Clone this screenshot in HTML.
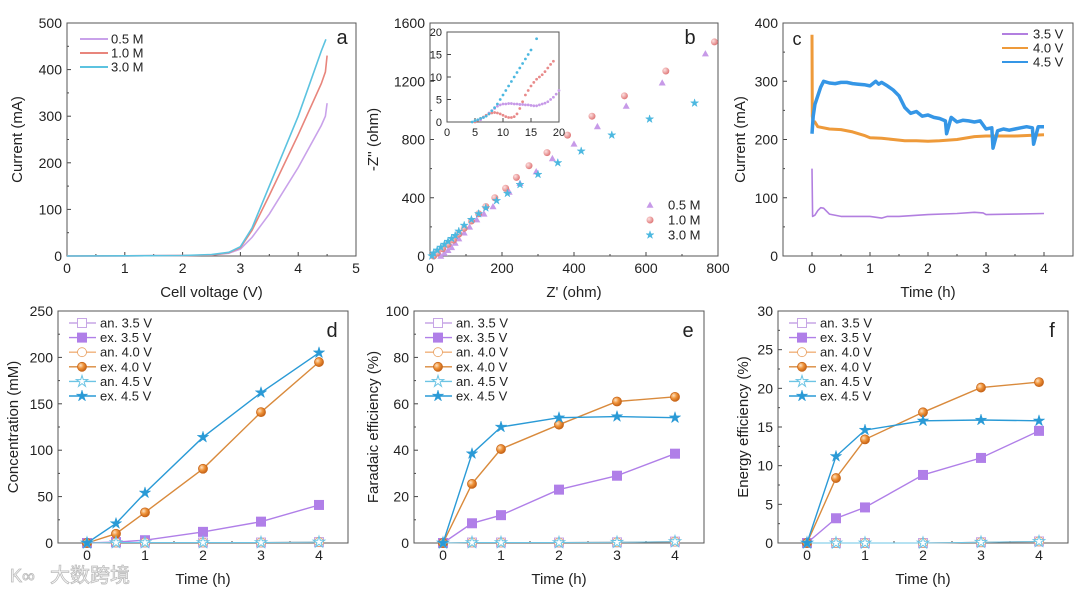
<!DOCTYPE html>
<html><head><meta charset="utf-8"><style>
body{margin:0;background:#fff;}
svg text{font-family:"Liberation Sans",Arial,sans-serif;fill:#222;}
</style></head><body>
<svg id="s" width="1080" height="594" viewBox="0 0 1080 594" xmlns="http://www.w3.org/2000/svg">
<defs>
<radialGradient id="gOr" cx="35%" cy="35%" r="65%"><stop offset="0" stop-color="#fde2c4"/><stop offset="0.5" stop-color="#f0943a"/><stop offset="1" stop-color="#c8661a"/></radialGradient>
<radialGradient id="gPk" cx="35%" cy="35%" r="65%"><stop offset="0" stop-color="#fde0e0"/><stop offset="1" stop-color="#e07a7a"/></radialGradient>
</defs>
<text x="50" y="582" font-size="20" style="fill:#fff;stroke:#bbb;stroke-width:0.8;font-family:'Noto Sans CJK SC',sans-serif">大数跨境</text>
<text x="10" y="582" font-size="18" style="fill:#fff;stroke:#bbb;stroke-width:0.8">K∞</text>
</svg>
<script>
// ---- Panel a data ----
const aV05=[0,1,2,2.5,2.8,3,3.2,3.5,4,4.4,4.47,4.5];
const aI05=[0,0.5,1,2,6,15,40,90,190,280,300,328];
const aV10=[0,1,2,2.5,2.8,3,3.2,3.5,4,4.4,4.47,4.5];
const aI10=[0,0.5,1,2,7,18,55,130,260,370,395,430];
const aV30=[0,1,2,2.5,2.8,3,3.2,3.5,4,4.4,4.48];
const aI30=[0,0.5,1,3,8,20,60,150,300,440,465];
// ---- Panel b data ----
const bX05=[30,40,50,60,70,80,95,110,130,150,175,220,250,295,340,400,465,545,645,765];
const bY05=[0,20,40,60,90,120,160,200,250,290,340,440,500,580,670,770,890,1030,1190,1390];
const bX10=[10,20,35,50,65,80,95,115,135,155,180,210,240,275,325,382,450,540,655,790];
const bY10=[0,20,50,80,110,150,190,240,290,340,400,465,540,620,710,830,960,1100,1270,1470];
const bX30=[5,10,20,30,40,50,60,70,80,95,115,135,155,185,215,250,300,355,420,505,610,735];
const bY30=[0,20,40,60,80,100,120,140,170,210,250,290,330,380,430,490,560,640,720,830,940,1050];
const iX05=[6,6.5,7,7.5,8,8.5,9,9.5,10,10.5,11,11.5,12,12.5,13,13.5,14,14.5,15,15.5,16,16.5,17,17.5,18,18.5,19,19.5,20];
const iY05=[0.5,1,1.5,2,2.5,3,3.5,3.8,4,4,4.1,4.1,4,4,3.9,3.9,3.8,3.8,3.7,3.6,3.6,3.8,4,4.2,4.5,5,5.5,6.2,7];
const iX10=[5,5.5,6,6.5,7,7.5,8,8.5,9,9.5,10,10.5,11,11.5,12,12.5,13,13.5,14,14.5,15,15.5,16,16.5,17,17.5,18,18.5,19];
const iY10=[0,0.4,0.8,1.1,1.5,1.8,2,2.1,2,1.8,1.5,1.2,1,1,1.2,1.8,3,4.5,6,7,8,8.8,9.5,10,10.5,11.2,12,12.8,13.5];
const iX30=[4.5,5,5.5,6,6.5,7,7.5,8,8.5,9,9.5,10,10.5,11,11.5,12,12.5,13,13.5,14,14.5,15,16];
const iY30=[0,0.3,0.5,0.8,1,1.3,1.8,2.5,3.2,4,5,6,7,8,9,10,11,12,13,14,15,16,18.5];
// ---- Panel c data ----
const cT35=[0,0.01,0.05,0.1,0.15,0.2,0.3,0.5,1.0,1.2,1.3,1.5,2.0,2.5,2.8,2.95,3.0,3.5,4.0];
const cI35=[150,68,70,78,83,82,72,68,68,65,68,68,71,73,75,74,71,72,73];
const cT40=[0,0.005,0.02,0.05,0.1,0.3,0.5,0.7,0.9,1.0,1.2,1.4,1.6,1.8,2.0,2.2,2.5,2.8,3.0,3.5,4.0];
const cI40=[380,240,228,230,222,218,217,213,207,203,202,200,198,198,197,198,200,205,206,206,208];
const cT45=[0,0.02,0.05,0.1,0.15,0.2,0.3,0.4,0.5,0.6,0.7,0.8,0.9,1.0,1.1,1.15,1.2,1.3,1.4,1.5,1.6,1.7,1.8,1.9,2.0,2.1,2.2,2.3,2.32,2.4,2.5,2.6,2.7,2.8,2.9,3.0,3.1,3.12,3.2,3.3,3.4,3.5,3.6,3.7,3.8,3.82,3.9,4.0];
const cI45=[210,240,260,275,290,300,297,296,298,298,296,295,294,292,300,295,298,292,285,275,255,245,248,240,242,238,236,232,210,238,230,233,232,230,232,218,220,185,215,218,216,218,220,222,220,192,222,222];
// ---- Panels d/e/f data ----
const tH=[0,0.5,1,2,3,4];
const dAn35=[0,0.5,0.5,0.5,0.5,1], dEx35=[0,1,3,12,23,41];
const dAn40=[0,0.5,0.5,0.5,0.5,1], dEx40=[0,10,33,80,141,195];
const dAn45=[0,0.5,0.5,0.5,0.5,1], dEx45=[0,21,54,114,162,205];
const eAn35=[0,0.2,0.2,0.2,0.3,0.6], eEx35=[0,8.5,12,23,29,38.5];
const eAn40=[0,0.2,0.2,0.2,0.3,0.6], eEx40=[0,25.5,40.5,51,61,63];
const eAn45=[0,0.2,0.2,0.2,0.3,0.6], eEx45=[0,38.5,50,54,54.5,54];
const fAn35=[0,0,0,0,0.1,0.2], fEx35=[0,3.2,4.6,8.8,11,14.5];
const fAn40=[0,0,0,0,0.1,0.2], fEx40=[0,8.4,13.4,16.9,20.1,20.8];
const fAn45=[0,0,0,0,0.1,0.2], fEx45=[0,11.2,14.6,15.8,15.9,15.8];

const svg=document.getElementById('s');
const NS='http://www.w3.org/2000/svg';
function el(tag,at,parent){const e=document.createElementNS(NS,tag);for(const k in at)e.setAttribute(k,at[k]);(parent||svg).appendChild(e);return e;}
function txt(x,y,s,size,anchor,parent){const t=el('text',{x:x,y:y,'font-size':size,'text-anchor':anchor||'middle'},parent);t.textContent=s;return t;}

function axes(o){
  const g=el('g',{});
  
  
  const sx=v=>o.L+(v-o.x0)/(o.x1-o.x0)*(o.R-o.L);
  const sy=v=>o.B-(v-o.y0)/(o.y1-o.y0)*(o.B-o.T);
  const f=o.fs||14;
  o.xt.forEach(v=>{const x=sx(v);el('line',{x1:x,x2:x,y1:o.B,y2:o.B-4,stroke:'#444'},g);
    txt(x,o.B+f+3,String(v),f,'middle',g);});
  if(o.xm) o.xm.forEach(v=>{const x=sx(v);el('line',{x1:x,x2:x,y1:o.B,y2:o.B-2,stroke:'#444'},g);});
  o.yt.forEach(v=>{const y=sy(v);el('line',{x1:o.L,x2:o.L+4,y1:y,y2:y,stroke:'#444'},g);
    txt(o.L-5,y+f*0.36,String(v),f,'end',g);});
  if(o.ym) o.ym.forEach(v=>{const y=sy(v);el('line',{x1:o.L,x2:o.L+2,y1:y,y2:y,stroke:'#444'},g);});
  el('rect',{x:o.L,y:o.T,width:o.R-o.L,height:o.B-o.T,fill:'none',stroke:'#555','stroke-width':1},g);
  if(o.xl){txt((o.L+o.R)/2,o.B+41,o.xl,15,'middle',g);}
  if(o.yl){const t=txt(0,0,o.yl,15,'middle',g);t.setAttribute('transform',`translate(${o.ylx},${(o.T+o.B)/2}) rotate(-90)`);}
  return {sx,sy,g};
}
function pathOf(X,Y,ax){return X.map((v,i)=>(i?'L':'M')+ax.sx(v).toFixed(1)+','+ax.sy(Y[i]).toFixed(1)).join(' ');}
function marker(type,x,y,col,open,r,parent){
  r=r||4.5;
  if(type==='sq') return el('rect',{x:x-r,y:y-r,width:2*r,height:2*r,fill:open?'#fff':col,stroke:col,'stroke-width':1},parent);
  if(type==='ci') return el('circle',{cx:x,cy:y,r:r,fill:open?'#fff':'url(#gOr)',stroke:open?'#e8a060':'#c8661a','stroke-width':0.8},parent);
  if(type==='pk') return el('circle',{cx:x,cy:y,r:r,fill:'url(#gPk)',stroke:'none'},parent);
  if(type==='st'){let p='';for(let i=0;i<10;i++){const a=-Math.PI/2+i*Math.PI/5;const rr=i%2?r*0.45:r*1.2;p+=(i?'L':'M')+(x+rr*Math.cos(a)).toFixed(1)+','+(y+rr*Math.sin(a)).toFixed(1);}
    return el('path',{d:p+'Z',fill:open?'#fff':col,stroke:col,'stroke-width':open?1:0.5},parent);}
  if(type==='tr') return el('path',{d:`M${x},${y-r}L${x+r},${y+r*0.8}L${x-r},${y+r*0.8}Z`,fill:col},parent);
}

// ===== Panel a =====
{const ax=axes({name:'panel-a',L:67,R:356,T:23,B:256,x0:0,x1:5,y0:0,y1:500,xt:[0,1,2,3,4,5],xm:[0.5,1.5,2.5,3.5,4.5],yt:[0,100,200,300,400,500],ym:[50,150,250,350,450],xl:'Cell voltage (V)',yl:'Current (mA)',ylx:22});
 const S=[[aV05,aI05,'#c9a2ea','0.5 M','curve-0-5m'],[aV10,aI10,'#e8857c','1.0 M','curve-1-0m'],[aV30,aI30,'#5cc3e0','3.0 M','curve-3-0m']];
 S.forEach((s,i)=>{const p=el('path',{d:pathOf(s[0],s[1],ax),fill:'none',stroke:s[2],'stroke-width':1.6});
  
  const y=39+i*14;const l=el('line',{x1:80,x2:108,y1:y,y2:y,stroke:s[2],'stroke-width':2});
  
  txt(111,y+4.5,s[3],13,'start');});
 txt(342,44,'a',20,'middle');}

// ===== Panel b =====
{const ax=axes({name:'panel-b',L:430,R:718,T:23,B:256,x0:0,x1:800,y0:0,y1:1600,xt:[0,200,400,600,800],xm:[100,300,500,700],yt:[0,400,800,1200,1600],ym:[200,600,1000,1400],xl:"Z' (ohm)",yl:"-Z'' (ohm)",ylx:378});
 const S=[[bX05,bY05,'#c79ae8','tr','0.5 M'],[bX10,bY10,'#e88a8a','pk','1.0 M'],[bX30,bY30,'#4cb8e0','st','3.0 M']];
 S.forEach((s,si)=>{const g=el('g',{});
  s[0].forEach((v,i)=>marker(s[3],ax.sx(v),ax.sy(s[1][i]),s[2],false,3.5,g));
  const y=205+si*15;marker(s[3],650,y,s[2],false,3.5);txt(668,y+4.5,s[4],13,'start');});
 txt(690,44,'b',20,'middle');
 const ix=axes({name:'inset-b',L:447,R:559,T:32,B:122,x0:0,x1:20,y0:0,y1:20,xt:[0,5,10,15,20],yt:[0,5,10,15,20],fs:11});
 const I=[[iX05,iY05,'#c79ae8'],[iX10,iY10,'#e88a8a'],[iX30,iY30,'#4cb8e0']];
 I.forEach(s=>{const g=el('g',{});
  s[0].forEach((v,i)=>el('circle',{cx:ix.sx(v),cy:ix.sy(s[1][i]),r:1.4,fill:s[2]},g));});}

// ===== Panel c =====
{const ax=axes({name:'panel-c',L:783,R:1073,T:23,B:256,x0:-0.5,x1:4.5,y0:0,y1:400,xt:[0,1,2,3,4],xm:[0.5,1.5,2.5,3.5],yt:[0,100,200,300,400],ym:[50,150,250,350],xl:'Time (h)',yl:'Current (mA)',ylx:745});
 const S=[[cT35,cI35,'#b27fe0','3.5 V',1.6],[cT40,cI40,'#ee9a3a','4.0 V',3],[cT45,cI45,'#3596e6','4.5 V',3.5]];
 S.forEach((s,i)=>{const p=el('path',{d:pathOf(s[0],s[1],ax),fill:'none',stroke:s[2],'stroke-width':s[4],'stroke-linejoin':'round'});
  
  const y=34+i*14;el('line',{x1:1002,x2:1028,y1:y,y2:y,stroke:s[2],'stroke-width':2});
  txt(1033,y+4.5,s[3],13,'start');});
 txt(797,45,'c',18,'middle');}

// ===== Panels d/e/f =====
function perfPanel(name,L,letter,yl,ylx,y1,yt,ym,D){
 const ax=axes({name:name,L:L,R:L+290,T:311,B:543,x0:-0.5,x1:4.5,y0:0,y1:y1,xt:[0,1,2,3,4],xm:[0.5,1.5,2.5,3.5],yt:yt,ym:ym,xl:'Time (h)',yl:yl,ylx:ylx});
 const spec=[['an. 3.5 V','#c7a6e6','sq',true,D[0]],['ex. 3.5 V','#b07fe8','sq',false,D[1]],['an. 4.0 V','#f0b07a','ci',true,D[2]],['ex. 4.0 V','#d98a3c','ci',false,D[3]],['an. 4.5 V','#6cc4e4','st',true,D[4]],['ex. 4.5 V','#2a9ad6','st',false,D[5]]];
 spec.forEach(s=>{const g=el('g',{});
  el('path',{d:pathOf(tH,s[4],ax),fill:'none',stroke:s[1],'stroke-width':s[3]?1:1.4},g);
  tH.forEach((t,i)=>marker(s[2],ax.sx(t),ax.sy(s[4][i]),s[1],s[3],s[2]==='st'?5:4.5,g));});
 spec.forEach((s,i)=>{const y=323+i*14.6;const g=el('g',{});
  el('line',{x1:L+11,x2:L+38,y1:y,y2:y,stroke:s[1],'stroke-width':1.4},g);marker(s[2],L+24,y,s[1],s[3],s[2]==='st'?5:4.5,g);
  txt(L+42,y+4.5,s[0],13,'start',g);});
 txt(L+274,337,letter,20,'middle');
}
perfPanel('panel-d',58,'d','Concentration (mM)',18,250,[0,50,100,150,200,250],[25,75,125,175,225],[dAn35,dEx35,dAn40,dEx40,dAn45,dEx45]);
perfPanel('panel-e',414,'e','Faradaic efficiency (%)',378,100,[0,20,40,60,80,100],[10,30,50,70,90],[eAn35,eEx35,eAn40,eEx40,eAn45,eEx45]);
perfPanel('panel-f',778,'f','Energy efficiency (%)',748,30,[0,5,10,15,20,25,30],[2.5,7.5,12.5,17.5,22.5,27.5],[fAn35,fEx35,fAn40,fEx40,fAn45,fEx45]);
</script>
</body></html>
